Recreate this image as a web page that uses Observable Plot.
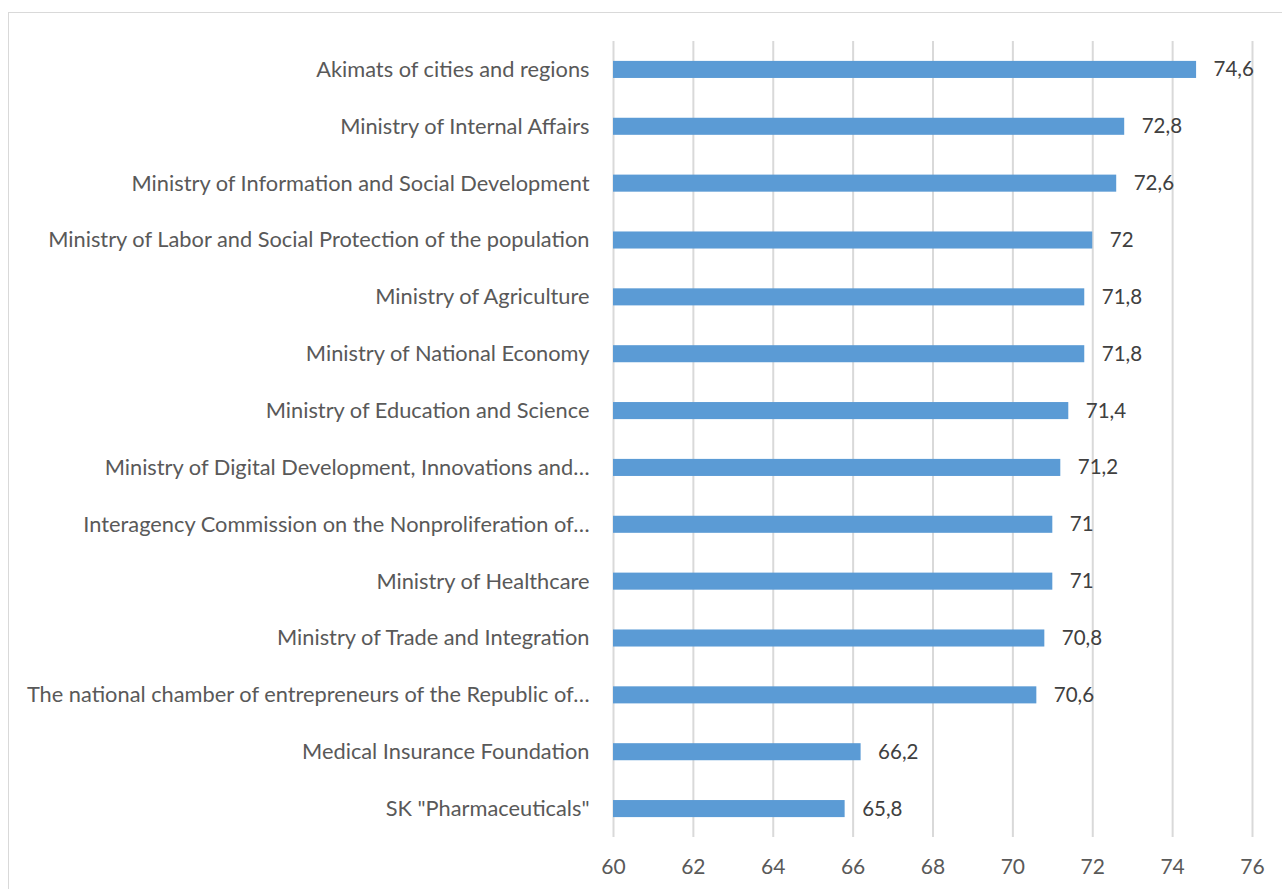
<!DOCTYPE html>
<html>
<head>
<meta charset="utf-8">
<script src="https://cdn.jsdelivr.net/npm/d3@7"></script>
<script src="https://cdn.jsdelivr.net/npm/@observablehq/plot@0.6"></script>
<style>
  html, body { margin: 0; padding: 0; background: #fff; overflow: hidden; }
  #frame { position: absolute; left: 8px; top: 12px; width: 1300px; height: 900px; border: 1px solid #D9D9D9; box-sizing: border-box; }
  #chart { position: absolute; left: 0; top: 0; }
</style>
</head>
<body>
<div id="frame"></div>
<div id="chart"></div>
<script>
const categories = [
  "Akimats of cities and regions",
  "Ministry of Internal Affairs",
  "Ministry of Information and Social Development",
  "Ministry of Labor and Social Protection of the population",
  "Ministry of Agriculture",
  "Ministry of National Economy",
  "Ministry of Education and Science",
  "Ministry of Digital Development, Innovations and…",
  "Interagency Commission on the Nonproliferation of…",
  "Ministry of Healthcare",
  "Ministry of Trade and Integration",
  "The national chamber of entrepreneurs of the Republic of…",
  "Medical Insurance Foundation",
  "SK \"Pharmaceuticals\""
];
const values = [74.6, 72.8, 72.6, 72, 71.8, 71.8, 71.4, 71.2, 71, 71, 70.8, 70.6, 66.2, 65.8];
const xTicks = [60, 62, 64, 66, 68, 70, 72, 74, 76];

const data = categories.map((c, i) => ({name: c, value: values[i]}));
const fmt = v => String(v).replace(".", ",");

const chart = Plot.plot({
  width: 1282,
  height: 889,
  marginLeft: 613,
  marginRight: 30,
  marginTop: 41,
  marginBottom: 52,
  style: {fontFamily: "Lato, 'Open Sans', sans-serif", fontSize: "18px", color: "#595959", background: "transparent"},
  x: {domain: [60, 76], label: null},
  y: {domain: categories, padding: 0.7, paddingOuter: 0.35, round: false, label: null},
  marks: [
    Plot.gridX(xTicks, {stroke: "#D9D9D9", strokeOpacity: 1, strokeWidth: 2}),
    Plot.barX(data, {x1: 60, x2: "value", y: "name", fill: "#5B9BD5"}),
    Plot.text(data, {x: "value", y: "name", text: d => fmt(d.value), textAnchor: "start", dx: 17, fill: "#404040", fontSize: 20.5}),
    Plot.axisX(xTicks, {tickSize: 0, tickPadding: 22, fontSize: 21, fill: "#595959", label: null}),
    Plot.axisY({tickSize: 0, tickPadding: 24, fontSize: 21.8, fill: "#595959", label: null})
  ]
});
document.getElementById("chart").appendChild(chart);
</script>
</body>
</html>
